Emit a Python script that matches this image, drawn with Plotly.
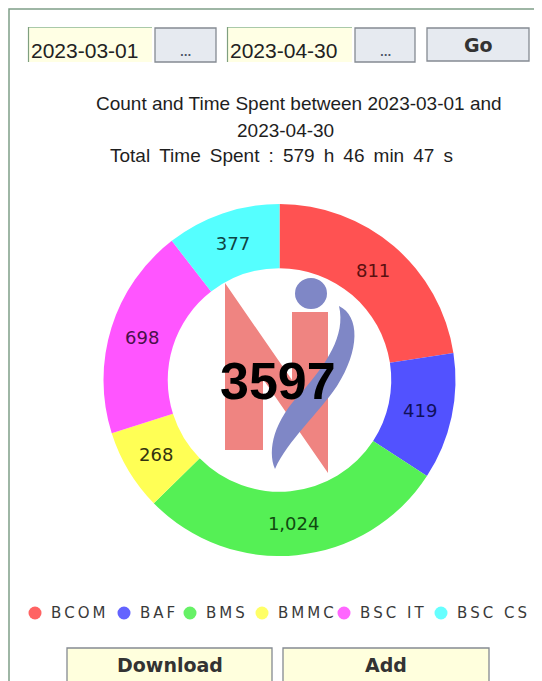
import plotly.graph_objects as go

# ---------------- data ----------------
categories = ["BCOM", "BAF", "BMS", "BMMC", "BSC IT", "BSC CS"]
counts = [811, 419, 1024, 268, 698, 377]
slice_colors = ["#ff5252", "#5252ff", "#55f055", "#ffff55", "#ff55ff", "#55ffff"]
label_colors = ["#5a1010", "#10105a", "#104a10", "#33330f", "#4a104a", "#0f4444"]
start_date = "2023-03-01"
end_date = "2023-04-30"
total_time = "579 h 46 min 47 s"
total_count = sum(counts)

# the page body has an 8px margin, so the figure is drawn 8px in from the corner
OFF = 8
W, H = 542 - OFF, 681 - OFF


def px(x):
    return (x - OFF) / W


def py(y):
    return 1 - (y - OFF) / H


fig = go.Figure()

# donut: centre (279.5, 380), outer radius 176 (window pixels)
cx, cy, R = 279.5, 380, 176
fig.add_trace(go.Pie(
    labels=categories,
    values=counts,
    marker=dict(colors=slice_colors, line=dict(width=0)),
    hole=0.635,
    sort=False,
    direction="clockwise",
    rotation=0,
    texttemplate="%{value:,}",
    textposition="inside",
    insidetextorientation="horizontal",
    textfont=dict(family="DejaVu Sans", size=18, color=label_colors),
    showlegend=False,
    domain=dict(x=[px(cx - R), px(cx + R)], y=[py(cy + R), py(cy - R)]),
))

shapes = []
ann = []

# outer frame
shapes.append(dict(type="rect", xref="paper", yref="paper",
                   x0=px(9), x1=px(620), y0=py(760), y1=py(9),
                   line=dict(color="#7f9f88", width=1.5), fillcolor="rgba(0,0,0,0)"))


def field(x0, x1, text):
    shapes.append(dict(type="rect", xref="paper", yref="paper",
                       x0=px(x0), x1=px(x1), y0=py(62), y1=py(27),
                       line=dict(width=0), fillcolor="#ffffe4"))
    shapes.append(dict(type="line", xref="paper", yref="paper",
                       x0=px(x0), x1=px(x1), y0=py(27.5), y1=py(27.5),
                       line=dict(color="#a9c9a9", width=1.2)))
    shapes.append(dict(type="line", xref="paper", yref="paper",
                       x0=px(x0 + 0.5), x1=px(x0 + 0.5), y0=py(27), y1=py(62),
                       line=dict(color="#7f9f7f", width=1.2)))
    ann.append(dict(x=px(x0 + 1), y=py(50), xref="paper", yref="paper",
                    text=text, showarrow=False, xanchor="left", yanchor="middle",
                    font=dict(family="Liberation Sans", size=21, color="#222222")))


def button(x0, x1, y0, y1, text, fill, size, dots=False, ty=None):
    shapes.append(dict(type="rect", xref="paper", yref="paper",
                       x0=px(x0), x1=px(x1), y0=py(y1), y1=py(y0),
                       line=dict(color="#858a92", width=1.3), fillcolor=fill))
    if dots:
        ann.append(dict(x=px((x0 + x1) / 2), y=py(53), xref="paper", yref="paper",
                        text="<b>" + text + "</b>", showarrow=False, xanchor="center",
                        yanchor="middle",
                        font=dict(family="DejaVu Sans", size=10, color="#4d5566")))
    else:
        ann.append(dict(x=px((x0 + x1) / 2), y=py(ty if ty else (y0 + y1) / 2),
                        xref="paper", yref="paper",
                        text="<b>" + text + "</b>", showarrow=False, xanchor="center",
                        yanchor="middle",
                        font=dict(family="DejaVu Sans", size=size, color="#333333")))


field(28, 152, start_date)
button(155, 216, 28, 62, "...", "#e6eaf0", 10, dots=True)
field(227, 352, end_date)
button(355, 415, 28, 62, "...", "#e6eaf0", 10, dots=True)
button(427, 529, 28, 61, "Go", "#e6eaf0", 19)

# title lines
THIN = "\u2009"
title_lines = [
    ("Count and Time Spent between " + start_date + " and", 299, 103.5),
    (end_date, 285, 130),
    (("Total Time Spent : " + total_time).replace(" ", " " + THIN), 281, 155.5),
]
for t, x, y in title_lines:
    ann.append(dict(x=px(x), y=py(y), xref="paper", yref="paper", text=t,
                    showarrow=False, xanchor="center", yanchor="middle",
                    font=dict(family="Liberation Sans", size=19, color="#1e1e1e")))

# logo in the hole
pink = "#ef8481"
blue = "#7f87c6"


def path(points):
    return "M " + " L ".join(f"{px(x):.5f},{py(y):.5f}" for x, y in points) + " Z"


n_pts = [(225, 450), (225, 283), (292, 380), (292, 312), (328, 312), (328, 473),
         (263, 379), (263, 450)]
shapes.append(dict(type="path", xref="paper", yref="paper", path=path(n_pts),
                   fillcolor=pink, line=dict(width=0)))
shapes.append(dict(type="circle", xref="paper", yref="paper",
                   x0=px(295), x1=px(327), y0=py(309), y1=py(278),
                   fillcolor=blue, line=dict(width=0)))


def bez(seg):
    out = []
    for cmd, pts in seg:
        out.append(cmd + " " + " ".join(f"{px(x):.5f},{py(y):.5f}" for x, y in pts))
    return " ".join(out) + " Z"


swoosh = bez([
    ("M", [(339, 306)]),
    ("C", [(360, 316), (360, 350), (337, 386)]),
    ("C", [(318, 414), (288, 440), (275, 469)]),
    ("C", [(267, 450), (274, 420), (302, 392)]),
    ("C", [(326, 364), (346, 336), (339, 306)]),
])
shapes.append(dict(type="path", xref="paper", yref="paper", path=swoosh,
                   fillcolor=blue, line=dict(width=0)))

# centre total
ann.append(dict(x=px(278), y=py(381), xref="paper", yref="paper",
                text="<b>" + str(total_count) + "</b>", showarrow=False,
                xanchor="center", yanchor="middle",
                font=dict(family="Liberation Sans", size=52, color="#000000")))

# legend
legend_text_x = [50, 139, 205, 277, 359, 456]
for name, col, tx in zip(categories, slice_colors, legend_text_x):
    cxl = tx - 15
    shapes.append(dict(type="circle", xref="paper", yref="paper",
                       x0=px(cxl - 6.5), x1=px(cxl + 6.5), y0=py(613 + 6.5), y1=py(613 - 6.5),
                       fillcolor=col, line=dict(width=0), opacity=0.9))
    ann.append(dict(x=px(tx - 1), y=py(613), xref="paper", yref="paper",
                    text=THIN.join(name), showarrow=False,
                    xanchor="left", yanchor="middle",
                    font=dict(family="DejaVu Sans", size=15, color="#3a3a3a")))

# bottom buttons
button(67, 272, 648, 700, "Download", "#ffffdd", 19, ty=665)
button(283, 489, 648, 700, "Add", "#ffffdd", 19, ty=665)

fig.update_layout(
    width=W, height=H,
    margin=dict(l=0, r=0, t=0, b=0),
    paper_bgcolor="#ffffff",
    plot_bgcolor="#ffffff",
    shapes=shapes,
    annotations=ann,
)
fig.write_html("out.html")
